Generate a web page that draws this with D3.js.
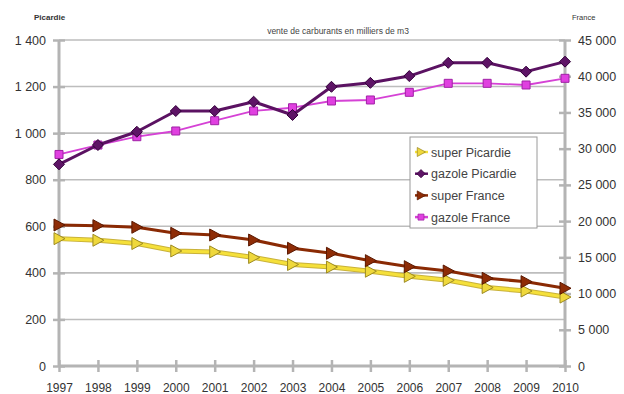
<!DOCTYPE html>
<html>
<head>
<meta charset="utf-8">
<script src="https://cdn.jsdelivr.net/npm/d3@7"></script>
<style>
  html, body { margin: 0; padding: 0; background: #fff; }
  svg { display: block; font-family: "Liberation Sans", Arial, sans-serif; }
</style>
</head>
<body>
<svg id="chart" width="624" height="394"></svg>
<script>
// Fuel sales, thousands of m3 (Picardie on the left axis, France on the right axis)
const years = [1997, 1998, 1999, 2000, 2001, 2002, 2003, 2004, 2005, 2006, 2007, 2008, 2009, 2010];
const superPicardie  = [547, 540, 526, 494, 490, 466, 436, 425, 407, 385, 368, 337, 322, 296];
const gazolePicardie = [866, 949, 1006, 1095, 1095, 1135, 1078, 1199, 1216, 1245, 1302, 1302, 1264, 1307];
const superFrance    = [19460, 19370, 19150, 18320, 18080, 17390, 16250, 15560, 14540, 13710, 13110, 12100, 11640, 10730];
const gazoleFrance   = [29200, 30500, 31650, 32440, 33860, 35200, 35650, 36580, 36720, 37780, 39020, 39020, 38790, 39710];
const leftTicks  = [0, 200, 400, 600, 800, 1000, 1200, 1400];
const rightTicks = [0, 5000, 10000, 15000, 20000, 25000, 30000, 35000, 40000, 45000];
const seriesNames = ["super Picardie", "gazole Picardie", "super France", "gazole France"];

const svg = d3.select("#chart");
const fr = d3.formatLocale({ decimal: ",", thousands: " ", grouping: [3], currency: ["", " €"] });
const fmt = fr.format(",d");

const plotLeft = 59, plotRight = 565, plotTop = 40, plotBottom = 366;
const x = d3.scaleLinear().domain([1997, 2010]).range([plotLeft, plotRight]);
const yL = d3.scaleLinear().domain([0, 1400]).range([plotBottom, plotTop]);
const yR = d3.scaleLinear().domain([0, 45000]).range([plotBottom, plotTop]);

const axisGrey = "#b4b4b4";
const textCol = "#333";

// horizontal gridlines on the Picardie scale
svg.append("g").selectAll("line").data(leftTicks.filter(d => d > 0)).join("line")
  .attr("x1", plotLeft).attr("x2", plotRight)
  .attr("y1", d => yL(d)).attr("y2", d => yL(d))
  .attr("stroke", "#bdbdbd").attr("stroke-width", 1.6);

// left axis
const gLeft = svg.append("g").attr("transform", `translate(${plotLeft},0)`)
  .call(d3.axisLeft(yL).tickValues(leftTicks).tickFormat(fmt).tickSize(6).tickPadding(7));
gLeft.selectAll(".tick line").clone().attr("x2", 6);
// right axis
const gRight = svg.append("g").attr("transform", `translate(${plotRight},0)`)
  .call(d3.axisRight(yR).tickValues(rightTicks).tickFormat(fmt).tickSize(6).tickPadding(7));
gRight.selectAll(".tick line").clone().attr("x2", -6);
// bottom axis
const gBottom = svg.append("g").attr("transform", `translate(0,${plotBottom})`)
  .call(d3.axisBottom(x).tickValues(years).tickFormat(d3.format("d")).tickSize(6).tickPadding(11));
gBottom.selectAll(".tick line").clone().attr("y2", -6);

[gLeft, gRight, gBottom].forEach(g => {
  g.select(".domain").attr("stroke", axisGrey).attr("stroke-width", 3);
  g.selectAll("line").attr("stroke", axisGrey).attr("stroke-width", 2.5);
  g.selectAll("text").attr("fill", textCol).attr("font-size", 12.5);
});
gLeft.select(".domain").attr("d", `M0,${plotTop}V${plotBottom}`);
gRight.select(".domain").attr("d", `M0,${plotTop}V${plotBottom}`);
gBottom.select(".domain").attr("d", `M${plotLeft},0H${plotRight}`);
gBottom.selectAll("text").attr("font-size", 12);

// headers
svg.append("text").attr("x", 34).attr("y", 20).attr("font-size", 8).attr("font-weight", "bold")
  .attr("fill", textCol).text("Picardie");
svg.append("text").attr("x", 572).attr("y", 20).attr("font-size", 7.5)
  .attr("fill", textCol).text("France");
svg.append("text").attr("x", 338).attr("y", 34).attr("font-size", 8.5).attr("text-anchor", "middle")
  .attr("fill", "#444").text("vente de carburants en milliers de m3");

// marker shapes
const diamond = "M0,-5.5L5.5,0L0,5.5L-5.5,0Z";
const square = d3.symbol().type(d3.symbolSquare).size(64)();
const triRight = "M-5,-6L6,0L-5,6Z";

const series = [
  { name: seriesNames[0], values: superPicardie, y: yL, line: "#f5e03a", under: "#c9b23a", width: 3, fill: "#efd83c", stroke: "#9c8a22", shape: triRight },
  { name: seriesNames[1], values: gazolePicardie, y: yL, line: "#5b1262", under: null, width: 3, fill: "#5e1466", stroke: "#33003a", shape: diamond },
  { name: seriesNames[2], values: superFrance, y: yR, line: "#8a2a04", under: null, width: 3, fill: "#8e2c06", stroke: "#5a1800", shape: triRight },
  { name: seriesNames[3], values: gazoleFrance, y: yR, line: "#d542d5", under: null, width: 1.8, fill: "#e040e0", stroke: "#a020a6", shape: square }
];

// draw order: France gazole first, then Picardie gazole, then the super series
const order = [3, 1, 0, 2];
order.forEach(i => {
  const s = series[i];
  const lineGen = d3.line().x((d, j) => x(years[j])).y(d => s.y(d));
  const g = svg.append("g");
  if (s.under) {
    g.append("path").attr("d", lineGen(s.values)).attr("fill", "none")
      .attr("stroke", s.under).attr("stroke-width", s.width + 2).attr("stroke-linejoin", "round");
  }
  g.append("path").attr("d", lineGen(s.values)).attr("fill", "none")
    .attr("stroke", s.line).attr("stroke-width", s.width).attr("stroke-linejoin", "round");
  g.selectAll("path.m").data(s.values).join("path").attr("class", "m")
    .attr("transform", (d, j) => `translate(${x(years[j])},${s.y(d)})`)
    .attr("d", s.shape).attr("fill", s.fill).attr("stroke", s.stroke).attr("stroke-width", 1);
});

// legend
const lg = svg.append("g").attr("transform", "translate(410,137)");
lg.append("rect").attr("width", 127).attr("height", 91).attr("fill", "#fff")
  .attr("stroke", "#9a9a9a").attr("stroke-width", 1);
series.forEach((s, i) => {
  const yy = 15 + i * 21.7;
  const row = lg.append("g").attr("transform", `translate(0,${yy})`);
  row.append("line").attr("x1", 5).attr("x2", 18).attr("y1", 0).attr("y2", 0)
    .attr("stroke", s.line).attr("stroke-width", 2.5);
  row.append("path").attr("transform", `translate(11,0) scale(0.75)`).attr("d", s.shape)
    .attr("fill", s.fill).attr("stroke", s.stroke).attr("stroke-width", 1);
  row.append("text").attr("x", 21).attr("y", 4.5).attr("font-size", 12.5)
    .attr("fill", "#444").text(s.name);
});
</script>
</body>
</html>
